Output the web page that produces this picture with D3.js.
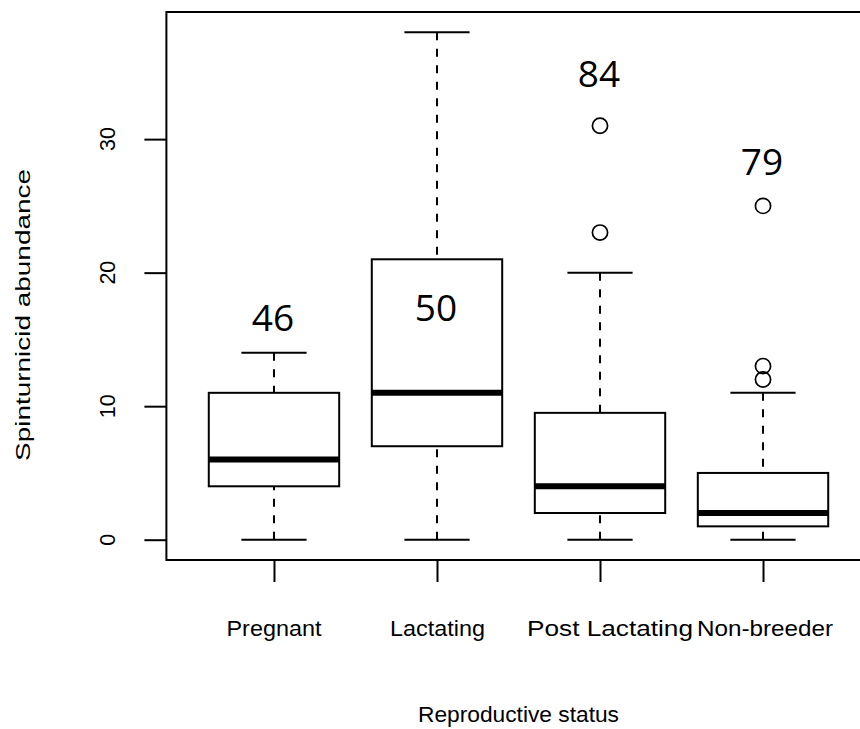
<!DOCTYPE html>
<html>
<head>
<meta charset="utf-8">
<script src="https://cdn.jsdelivr.net/npm/d3@7"></script>
<style>
  html, body { margin: 0; padding: 0; background: #fff; }
  svg { display: block; }
  text { fill: #000; }
</style>
</head>
<body>
<svg id="chart" width="860" height="729"></svg>
<script>
// Spinturnicid abundance by reproductive status (boxplot summaries)
const categories   = ["Pregnant", "Lactating", "Post Lactating", "Non-breeder"];
const whiskerLow   = [0, 0, 0, 0];
const quartile1    = [4, 7, 2, 1];
const medians      = [6, 11, 4, 2];
const quartile3    = [11, 21, 9.5, 5];
const whiskerHigh  = [14, 38, 20, 11];
const outliers     = [[], [], [31, 23], [25, 13, 12]];
const sampleSizes  = [46, 50, 84, 79];
const yTickValues  = [0, 10, 20, 30];

// where each sample-size label sits (value units, baseline)
const countLabelAt = [15.6, 16.35, 33.9, 27.3];

const svg = d3.select("#chart");
const FONT = "Liberation Sans, Arial, Helvetica, sans-serif";

const x = d3.scaleLinear().domain([0.34, 4.66]).range([166.4, 870.6]);
const y = d3.scaleLinear().domain([-1.52, 39.52]).range([560, 12]);
const boxHalf = 0.4, capHalf = 0.2;

// plot frame
svg.append("rect")
  .attr("x", x(0.34)).attr("y", y(39.52))
  .attr("width", x(4.66) - x(0.34)).attr("height", y(-1.52) - y(39.52))
  .attr("fill", "none").attr("stroke", "#000").attr("stroke-width", 2);

// y axis
const yAxis = svg.append("g").attr("transform", `translate(${x(0.34)},0)`)
  .call(d3.axisLeft(y).tickValues(yTickValues).tickSize(22).tickFormat(d3.format("d")));
yAxis.select(".domain").remove();
yAxis.selectAll(".tick line").attr("stroke", "#000").attr("stroke-width", 2);
yAxis.selectAll(".tick text").remove();
yTickValues.forEach(v => {
  svg.append("text")
    .attr("transform", `translate(115,${y(v)}) rotate(-90)`)
    .attr("text-anchor", "middle")
    .attr("font-family", FONT).attr("font-size", 21.5)
    .text(v);
});

// x axis
const xAxis = svg.append("g").attr("transform", `translate(0,${y(-1.52)})`)
  .call(d3.axisBottom(x).tickValues([1, 2, 3, 4]).tickSize(22).tickFormat(""));
xAxis.select(".domain").remove();
xAxis.selectAll(".tick line").attr("stroke", "#000").attr("stroke-width", 2);

const labelWidths = [95, 95, 166, 136];
const labelShift  = [0, 0.5, 10, 2];
categories.forEach((c, i) => {
  svg.append("text")
    .attr("x", x(i + 1) + labelShift[i]).attr("y", 636)
    .attr("text-anchor", "middle")
    .attr("font-family", FONT).attr("font-size", 22)
    .attr("textLength", labelWidths[i]).attr("lengthAdjust", "spacingAndGlyphs")
    .text(c);
});

// axis titles
svg.append("text")
  .attr("x", (x(0.34) + x(4.66)) / 2).attr("y", 722)
  .attr("text-anchor", "middle")
  .attr("font-family", FONT).attr("font-size", 22)
  .attr("textLength", 201).attr("lengthAdjust", "spacingAndGlyphs")
  .text("Reproductive status");

svg.append("text")
  .attr("transform", `translate(29.5,315) rotate(-90)`)
  .attr("text-anchor", "middle")
  .attr("font-family", FONT).attr("font-size", 21)
  .attr("textLength", 292).attr("lengthAdjust", "spacingAndGlyphs")
  .text("Spinturnicid abundance");

// boxes
const g = svg.append("g");
categories.forEach((c, i) => {
  const cx = i + 1;
  // whiskers (dashed, from the whisker end toward the box)
  g.append("line")
    .attr("x1", x(cx)).attr("x2", x(cx))
    .attr("y1", y(whiskerLow[i])).attr("y2", y(quartile1[i]))
    .attr("stroke", "#000").attr("stroke-width", 2).attr("stroke-dasharray", "8,8.5");
  g.append("line")
    .attr("x1", x(cx)).attr("x2", x(cx))
    .attr("y1", y(whiskerHigh[i])).attr("y2", y(quartile3[i]))
    .attr("stroke", "#000").attr("stroke-width", 2).attr("stroke-dasharray", "8,8.5");
  // caps
  [whiskerLow[i], whiskerHigh[i]].forEach(v => {
    g.append("line")
      .attr("x1", x(cx - capHalf)).attr("x2", x(cx + capHalf))
      .attr("y1", y(v)).attr("y2", y(v))
      .attr("stroke", "#000").attr("stroke-width", 2);
  });
  // box
  g.append("rect")
    .attr("x", x(cx - boxHalf)).attr("y", y(quartile3[i]))
    .attr("width", x(cx + boxHalf) - x(cx - boxHalf))
    .attr("height", y(quartile1[i]) - y(quartile3[i]))
    .attr("fill", "#fff").attr("stroke", "#000").attr("stroke-width", 2);
  // median
  g.append("line")
    .attr("x1", x(cx - boxHalf)).attr("x2", x(cx + boxHalf))
    .attr("y1", y(medians[i])).attr("y2", y(medians[i]))
    .attr("stroke", "#000").attr("stroke-width", 6);
  // outliers
  outliers[i].forEach(v => {
    g.append("circle")
      .attr("cx", x(cx)).attr("cy", y(v)).attr("r", 7.6)
      .attr("fill", "none").attr("stroke", "#000").attr("stroke-width", 1.7);
  });
  // sample sizes
  g.append("text")
    .attr("x", x(cx) - 1).attr("y", y(countLabelAt[i]))
    .attr("text-anchor", "middle")
    .attr("font-family", "Open Sans, Noto Sans, sans-serif").attr("font-size", 37)
    .text(sampleSizes[i]);
});
</script>
</body>
</html>
